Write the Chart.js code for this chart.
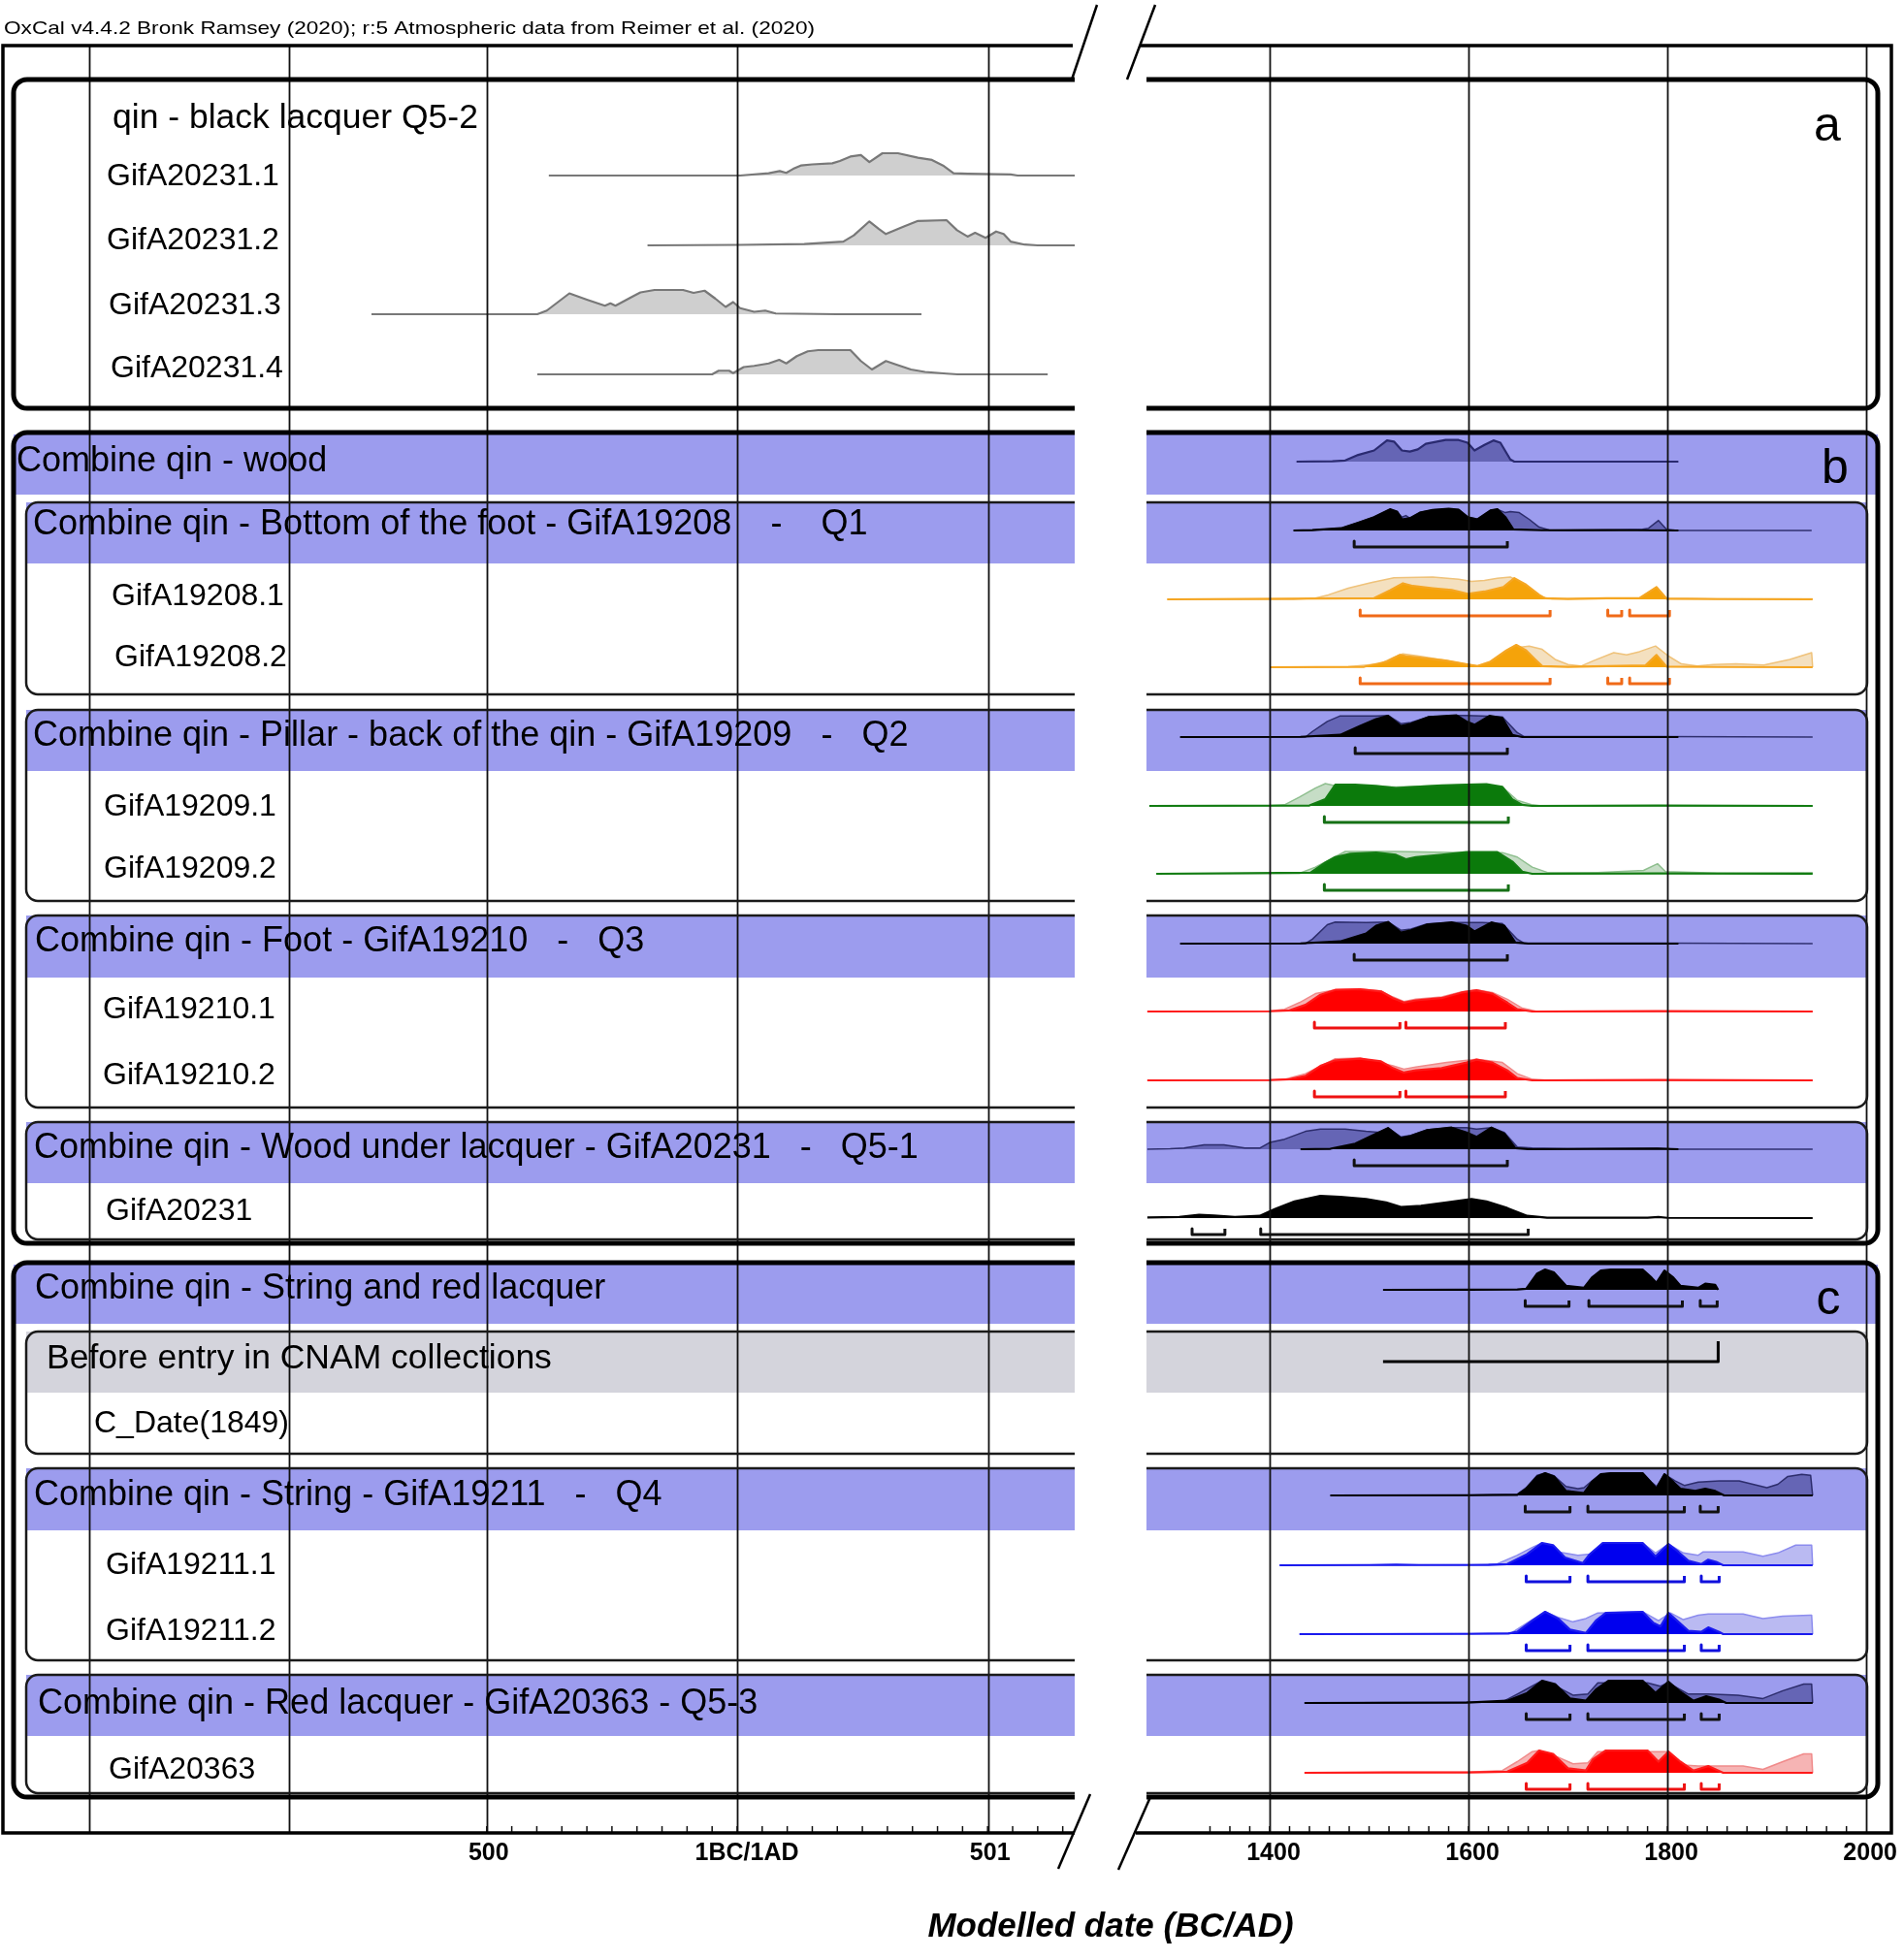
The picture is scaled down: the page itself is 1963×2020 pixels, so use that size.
<!DOCTYPE html>
<html><head><meta charset="utf-8">
<script src="https://cdn.jsdelivr.net/npm/chart.js"></script>
<style>html,body{margin:0;padding:0;background:#fff;}canvas{display:block;}</style>
</head><body>
<canvas id="c" width="1963" height="2020"></canvas>
<script>
// ================= DATA (years, relative probability) =================
const titleText = 'OxCal v4.4.2 Bronk Ramsey (2020); r:5 Atmospheric data from Reimer et al. (2020)';
const axisTitle = 'Modelled date (BC/AD)';
const leftTickLabels = ['500','1BC/1AD','501'];
const leftTickYears = [-500, 0, 501];
const rightTickLabels = ['1400','1600','1800','2000'];
const rightTickYears = [1400, 1600, 1800, 2000];
const leftGridYears = [-1293, -895, -500, 0, 501];
const rightGridYears = [1400, 1600, 1800, 2000];

const labelTexts = [
 'qin - black lacquer Q5-2','GifA20231.1','GifA20231.2','GifA20231.3','GifA20231.4',
 'Combine qin - wood',
 'Combine qin - Bottom of the foot - GifA19208    -    Q1','GifA19208.1','GifA19208.2',
 'Combine qin - Pillar - back of the qin - GifA19209   -   Q2','GifA19209.1','GifA19209.2',
 'Combine qin - Foot - GifA19210   -   Q3','GifA19210.1','GifA19210.2',
 'Combine qin - Wood under lacquer - GifA20231   -   Q5-1','GifA20231',
 'Combine qin - String and red lacquer',
 'Before entry in CNAM collections','C_Date(1849)',
 'Combine qin - String - GifA19211   -   Q4','GifA19211.1','GifA19211.2',
 'Combine qin - Red lacquer - GifA20363 - Q5-3','GifA20363'
];
const panelLetters = ['a','b','c'];

// left panel (black lacquer, calibrated)
const g20231_1 = [[-376,0],[6,0],[63,0.1],[85,0.2],[98,0.12],[112,0.3],[127,0.45],[150,0.5],[190,0.55],[205,0.65],[226,0.85],[247,0.92],[264,0.6],[290,1.0],[321,1.0],[361,0.8],[389,0.7],[411,0.45],[432,0.1],[461,0.08],[546,0.05],[560,0],[674,0]];
const g20231_2 = [[-179,0],[6,0.02],[134,0.05],[212,0.15],[233,0.4],[264,0.95],[283,0.65],[297,0.45],[333,0.75],[361,0.97],[418,1.0],[439,0.6],[460,0.35],[475,0.5],[496,0.3],[517,0.55],[532,0.45],[546,0.15],[574,0.03],[600,0],[674,0]];
const g20231_3 = [[-730,0],[-399,0],[-380,0.15],[-335,0.86],[-300,0.6],[-264,0.35],[-253,0.45],[-243,0.35],[-207,0.75],[-193,0.9],[-165,1.0],[-108,1.0],[-87,0.88],[-65,0.97],[-44,0.65],[-23,0.3],[-8,0.5],[6,0.25],[34,0.1],[56,0.15],[77,0.03],[119,0.02],[200,0],[368,0]];
const g20231_4 = [[-399,0],[-50,0],[-37,0.15],[-16,0.15],[-8,0.05],[13,0.3],[34,0.35],[63,0.45],[84,0.6],[98,0.45],[119,0.75],[141,0.95],[162,1.0],[226,1.0],[247,0.55],[269,0.2],[297,0.55],[318,0.4],[347,0.2],[375,0.1],[418,0.03],[440,0],[620,0]];

// right panel (modelled)
const woodComb = [[1427,0],[1463,0.02],[1476,0.05],[1489,0.3],[1505,0.5],[1518,0.95],[1525,0.9],[1533,0.5],[1541,0.45],[1549,0.55],[1557,0.8],[1577,0.97],[1590,0.97],[1599,0.85],[1606,0.5],[1616,0.75],[1625,0.95],[1632,0.85],[1642,0.1],[1646,0],[1811,0]];

const q1Post = [[1424,0],[1443,0.02],[1472,0.1],[1489,0.35],[1505,0.6],[1521,0.95],[1528,0.85],[1533,0.5],[1541,0.55],[1551,0.8],[1564,0.92],[1580,0.97],[1590,0.93],[1599,0.6],[1609,0.5],[1622,0.9],[1629,0.95],[1637,0.6],[1645,0.05],[1674,0.01],[1739,0.02],[1770,0.01],[1811,0]];
const q1Prior = [[1424,0],[1443,0.02],[1472,0.1],[1489,0.35],[1505,0.6],[1521,0.95],[1528,0.85],[1533,0.6],[1537,0.67],[1541,0.55],[1551,0.8],[1564,0.92],[1580,0.97],[1590,0.93],[1599,0.6],[1609,0.5],[1622,0.9],[1629,0.95],[1637,0.8],[1642,0.85],[1651,0.8],[1661,0.5],[1671,0.15],[1681,0.02],[1700,0.01],[1739,0.02],[1775,0.05],[1781,0.1],[1791,0.45],[1799,0.05],[1810,0],[1945,0]];
const q1Range = [[1485,1639]];

const s08_1Post = [[1297,0],[1505,0.05],[1521,0.4],[1534,0.72],[1544,0.6],[1564,0.5],[1583,0.42],[1599,0.25],[1616,0.35],[1635,0.55],[1646,0.95],[1658,0.65],[1671,0.2],[1677,0.05],[1700,0.02],[1739,0.05],[1772,0.06],[1789,0.55],[1799,0.03],[1850,0.01],[1946,0]];
const s08_1Like = [[1297,0],[1424,0],[1446,0.05],[1459,0.2],[1479,0.5],[1502,0.75],[1525,0.97],[1564,1.0],[1590,0.9],[1603,0.8],[1616,0.85],[1629,0.95],[1642,1.0],[1651,0.8],[1664,0.4],[1674,0.1],[1684,0.02],[1739,0.05],[1772,0.05],[1789,0.55],[1799,0.05],[1850,0.02],[1946,0.02]];
const s08_1Range = [[1491,1682],[1740,1754],[1762,1802]];

const s08_2Post = [[1400,0],[1495,0.02],[1518,0.25],[1531,0.55],[1537,0.5],[1557,0.4],[1577,0.3],[1596,0.15],[1609,0.05],[1622,0.25],[1638,0.75],[1648,1.0],[1658,0.75],[1667,0.35],[1674,0.05],[1700,0.02],[1739,0.05],[1778,0.08],[1789,0.55],[1799,0.03],[1850,0.01],[1946,0]];
const s08_2Like = [[1400,0],[1479,0.02],[1511,0.15],[1525,0.45],[1534,0.6],[1550,0.5],[1577,0.3],[1599,0.12],[1609,0.05],[1622,0.2],[1642,0.85],[1661,0.95],[1674,0.8],[1687,0.35],[1700,0.12],[1713,0.05],[1726,0.3],[1746,0.65],[1759,0.55],[1772,0.7],[1788,0.95],[1801,0.5],[1814,0.15],[1830,0.05],[1846,0.12],[1869,0.15],[1897,0.1],[1923,0.35],[1945,0.65],[1946,0]];
const s08_2Range = [[1491,1682],[1740,1754],[1762,1802]];

const q2Post = [[1310,0],[1431,0.01],[1471,0.1],[1491,0.5],[1507,0.8],[1519,0.95],[1532,0.5],[1542,0.6],[1560,0.9],[1588,0.97],[1598,0.7],[1606,0.55],[1621,0.95],[1634,0.85],[1644,0.1],[1654,0],[1811,0]];
const q2Prior = [[1310,0],[1436,0],[1443,0.25],[1458,0.7],[1471,0.95],[1507,0.95],[1519,0.97],[1532,0.6],[1542,0.65],[1560,0.9],[1588,0.97],[1598,0.97],[1614,0.95],[1634,0.9],[1649,0.2],[1656,0.02],[1790,0.02],[1946,0]];
const q2Range = [[1486,1639]];

const s09_1Post = [[1279,0],[1440,0.02],[1456,0.3],[1466,0.95],[1486,0.95],[1507,0.9],[1527,0.8],[1547,0.85],[1573,0.92],[1598,0.95],[1618,0.97],[1634,0.85],[1644,0.3],[1654,0.05],[1664,0],[1790,0.02],[1946,0]];
const s09_1Like = [[1279,0],[1400,0.02],[1415,0.05],[1430,0.4],[1446,0.8],[1456,1.0],[1466,0.9],[1486,0.9],[1527,0.85],[1598,0.95],[1634,0.85],[1649,0.25],[1664,0.05],[1674,0],[1946,0]];
const s09_1Range = [[1455,1640]];

const s09_2Post = [[1286,0],[1441,0.05],[1456,0.5],[1466,0.75],[1481,0.9],[1507,0.95],[1527,0.85],[1537,0.65],[1547,0.75],[1573,0.85],[1598,0.97],[1629,0.97],[1644,0.55],[1654,0.1],[1664,0],[1790,0.02],[1946,0]];
const s09_2Like = [[1286,0],[1430,0.02],[1446,0.3],[1476,1.0],[1527,1.0],[1598,0.95],[1634,0.95],[1649,0.75],[1664,0.3],[1680,0.05],[1730,0.05],[1776,0.15],[1790,0.45],[1798,0.1],[1850,0.03],[1946,0.05]];
const s09_2Range = [[1455,1640]];

const q3Post = [[1310,0],[1431,0.01],[1471,0.1],[1497,0.45],[1507,0.8],[1519,0.97],[1532,0.5],[1542,0.6],[1558,0.85],[1583,0.95],[1598,0.8],[1606,0.55],[1623,0.95],[1636,0.8],[1647,0.05],[1660,0],[1811,0]];
const q3Prior = [[1310,0],[1436,0],[1443,0.2],[1458,0.85],[1466,0.97],[1497,0.95],[1519,0.97],[1532,0.6],[1542,0.65],[1558,0.88],[1583,0.95],[1598,0.95],[1614,0.95],[1634,0.9],[1649,0.2],[1656,0.02],[1790,0.02],[1946,0]];
const q3Range = [[1485,1639]];

const s10_1Post = [[1277,0],[1400,0.01],[1420,0.05],[1436,0.3],[1451,0.75],[1466,0.97],[1491,1.0],[1512,0.9],[1524,0.6],[1535,0.4],[1547,0.5],[1573,0.6],[1593,0.85],[1608,0.95],[1624,0.8],[1639,0.4],[1649,0.1],[1664,0],[1790,0.02],[1946,0]];
const s10_1Like = [[1277,0],[1400,0.02],[1415,0.1],[1430,0.4],[1446,0.8],[1466,0.97],[1491,1.0],[1512,0.92],[1524,0.65],[1535,0.45],[1547,0.55],[1573,0.65],[1593,0.88],[1608,0.97],[1624,0.85],[1639,0.55],[1654,0.15],[1669,0],[1946,0]];
const s10_1Range = [[1445,1531],[1537,1637]];

const s10_2Post = [[1277,0],[1400,0.01],[1420,0.05],[1436,0.2],[1451,0.65],[1466,0.9],[1491,0.97],[1512,0.85],[1524,0.55],[1535,0.35],[1547,0.45],[1573,0.55],[1598,0.8],[1608,0.93],[1624,0.8],[1639,0.45],[1649,0.1],[1664,0],[1790,0.02],[1946,0]];
const s10_2Like = [[1277,0],[1400,0.02],[1415,0.05],[1436,0.3],[1466,0.97],[1491,1.0],[1524,0.65],[1535,0.5],[1547,0.6],[1578,0.8],[1608,0.95],[1634,0.8],[1649,0.3],[1664,0.05],[1680,0],[1946,0]];
const s10_2Range = [[1445,1531],[1537,1637]];

const q51Post = [[1431,0],[1461,0.02],[1486,0.25],[1507,0.7],[1519,0.95],[1532,0.5],[1542,0.6],[1558,0.85],[1583,0.97],[1598,0.75],[1608,0.55],[1623,0.97],[1636,0.7],[1647,0.05],[1660,0],[1790,0.03],[1811,0]];
const q51Prior = [[1277,0],[1300,0.02],[1314,0.05],[1334,0.2],[1354,0.2],[1375,0.05],[1390,0.05],[1400,0.3],[1415,0.45],[1436,0.8],[1451,0.9],[1476,0.9],[1497,0.8],[1512,0.75],[1519,0.95],[1532,0.55],[1542,0.62],[1558,0.87],[1583,0.97],[1598,0.97],[1608,0.9],[1623,0.97],[1636,0.75],[1649,0.1],[1664,0.05],[1700,0.02],[1790,0.03],[1811,0],[1946,0]];
const q51Range = [[1485,1639]];

const s20231 = [[1277,0.03],[1309,0.05],[1329,0.15],[1344,0.12],[1365,0.05],[1390,0.1],[1405,0.4],[1425,0.75],[1451,1.0],[1471,0.95],[1497,0.85],[1517,0.7],[1532,0.5],[1552,0.55],[1578,0.7],[1603,0.85],[1618,0.75],[1639,0.45],[1659,0.1],[1679,0.02],[1780,0.02],[1791,0.05],[1800,0.01],[1946,0]];
const s20231Range = [[1322,1355],[1391,1660]];

const strPost = [[1514,0],[1600,0.01],[1649,0.02],[1658,0.05],[1669,0.8],[1677,1.0],[1686,0.85],[1698,0.2],[1716,0.1],[1724,0.6],[1733,0.95],[1743,1.0],[1775,1.0],[1784,0.6],[1789,0.35],[1797,0.95],[1806,0.6],[1813,0.2],[1831,0.1],[1838,0.3],[1848,0.25],[1851,0]];
const strRange = [[1657,1701],[1721,1815],[1833,1850]];
const beforeEntry = [1514, 1851];

const q4Post = [[1461,0],[1600,0.01],[1649,0.03],[1658,0.3],[1669,0.85],[1677,1.0],[1686,0.85],[1698,0.2],[1716,0.1],[1724,0.6],[1733,0.95],[1743,1.0],[1775,1.0],[1784,0.55],[1789,0.3],[1797,0.95],[1806,0.6],[1813,0.3],[1828,0.2],[1838,0.3],[1848,0.2],[1857,0],[1946,0]];
const q4Prior = [[1461,0],[1600,0.01],[1649,0.05],[1658,0.35],[1669,0.9],[1677,1.0],[1686,0.88],[1698,0.4],[1710,0.3],[1716,0.35],[1724,0.65],[1733,0.95],[1743,1.0],[1775,1.0],[1784,0.6],[1789,0.4],[1797,0.95],[1808,0.65],[1817,0.45],[1831,0.6],[1852,0.65],[1872,0.65],[1886,0.5],[1900,0.35],[1911,0.5],[1921,0.85],[1935,0.95],[1944,0.9],[1946,0]];
const q4Range = [[1657,1702],[1720,1817],[1833,1851]];

const s11_1Post = [[1410,0],[1500,0.01],[1527,0.03],[1550,0.01],[1620,0.02],[1639,0.05],[1659,0.5],[1674,1.0],[1685,0.9],[1697,0.35],[1715,0.1],[1722,0.5],[1735,1.0],[1775,1.0],[1788,0.4],[1801,0.95],[1811,0.6],[1821,0.2],[1834,0.05],[1841,0.25],[1849,0.15],[1856,0],[1946,0]];
const s11_1Like = [[1410,0],[1600,0.02],[1628,0.05],[1649,0.45],[1664,0.8],[1674,1.0],[1690,0.6],[1710,0.45],[1722,0.5],[1735,1.0],[1775,1.0],[1788,0.55],[1801,0.95],[1816,0.55],[1831,0.45],[1836,0.6],[1876,0.6],[1896,0.4],[1911,0.55],[1929,0.9],[1945,0.9],[1946,0]];
const s11_1Range = [[1658,1702],[1720,1817],[1834,1852]];

const s11_2Post = [[1430,0],[1600,0.01],[1640,0.03],[1649,0.1],[1664,0.6],[1677,1.0],[1690,0.7],[1702,0.2],[1718,0.05],[1728,0.6],[1738,0.95],[1775,1.0],[1786,0.5],[1793,0.35],[1801,0.95],[1811,0.55],[1821,0.15],[1834,0.1],[1841,0.3],[1852,0.1],[1856,0],[1946,0]];
const s11_2Like = [[1430,0],[1600,0.02],[1643,0.05],[1664,0.65],[1677,1.0],[1690,0.75],[1705,0.55],[1718,0.7],[1730,0.95],[1775,1.0],[1791,0.6],[1803,0.95],[1816,0.65],[1831,0.85],[1841,0.9],[1876,0.9],[1896,0.7],[1916,0.8],[1943,0.85],[1945,0.85],[1946,0]];
const s11_2Range = [[1658,1702],[1720,1817],[1834,1852]];

const q53Post = [[1435,0],[1598,0.02],[1639,0.1],[1659,0.45],[1674,1.0],[1687,0.85],[1702,0.2],[1718,0.1],[1728,0.6],[1741,1.0],[1775,1.0],[1788,0.45],[1801,0.95],[1813,0.5],[1826,0.1],[1839,0.3],[1852,0.15],[1859,0],[1946,0]];
const q53Prior = [[1435,0],[1598,0.03],[1634,0.05],[1649,0.4],[1674,1.0],[1690,0.7],[1705,0.35],[1720,0.4],[1730,0.9],[1780,0.9],[1793,0.75],[1801,0.9],[1821,0.4],[1841,0.4],[1871,0.35],[1896,0.2],[1916,0.55],[1937,0.85],[1945,0.85],[1946,0]];
const q53Range = [[1658,1702],[1720,1817],[1834,1852]];

const s20363Post = [[1435,0],[1517,0.02],[1600,0.02],[1639,0.05],[1659,0.45],[1671,1.0],[1685,0.85],[1700,0.2],[1718,0.1],[1725,0.6],[1738,1.0],[1780,1.0],[1791,0.5],[1801,0.95],[1813,0.5],[1826,0.1],[1841,0.3],[1856,0],[1946,0]];
const s20363Like = [[1435,0],[1600,0.03],[1634,0.1],[1649,0.5],[1664,0.95],[1671,1.0],[1690,0.7],[1705,0.4],[1720,0.45],[1730,0.95],[1780,0.95],[1801,0.95],[1816,0.35],[1831,0.3],[1852,0.3],[1876,0.3],[1896,0.15],[1916,0.5],[1937,0.85],[1945,0.85],[1946,0]];
const s20363Range = [[1658,1702],[1720,1817],[1834,1852]];

// ================= LAYOUT & STYLE =================
const FONT = '"Liberation Sans", Arial, Helvetica, sans-serif';
const L_END = 1108, R_START = 1182;
const BAND = '#9c9cee', GREY = '#d4d4dc';
const PRI = 'rgba(35,35,110,0.45)', PRIB = 'rgba(30,30,90,0.85)';
const ST = {
  grey:  {post:'#cfcfcf', postB:'#787878'},
  black: {post:'#000000', postB:'#000000', like:PRI, likeB:PRIB, range:'#111111'},
  orange:{post:'#f5a30a', postB:'#f5a623', like:'#f4e0bf', likeB:'#efc27a', range:'#f06a18'},
  green: {post:'#0b7a0b', postB:'#127c12', like:'#c6ddc6', likeB:'#8fbf8f', range:'#157015'},
  red:   {post:'#ff0000', postB:'#ff1a1a', like:'#f6b4b4', likeB:'#f08a8a', range:'#ee1111'},
  blue:  {post:'#0000ee', postB:'#1a1aee', like:'#babaf2', likeB:'#8c8cee', range:'#1010dd'}
};
const H = 23;
const leftRows = [
  {d:g20231_1, base:181, h:23}, {d:g20231_2, base:253, h:26},
  {d:g20231_3, base:324, h:25}, {d:g20231_4, base:386, h:25}
];
const rightRows = [
  {post:woodComb, postStyle:{post:PRI, postB:'#2a2a70'}, base:476},
  {post:q1Post, like:q1Prior, range:q1Range, st:'black', base:547},
  {post:s08_1Post, like:s08_1Like, range:s08_1Range, st:'orange', base:618},
  {post:s08_2Post, like:s08_2Like, range:s08_2Range, st:'orange', base:688},
  {post:q2Post, like:q2Prior, range:q2Range, st:'black', base:760},
  {post:s09_1Post, like:s09_1Like, range:s09_1Range, st:'green', base:831},
  {post:s09_2Post, like:s09_2Like, range:s09_2Range, st:'green', base:901},
  {post:q3Post, like:q3Prior, range:q3Range, st:'black', base:973},
  {post:s10_1Post, like:s10_1Like, range:s10_1Range, st:'red', base:1043},
  {post:s10_2Post, like:s10_2Like, range:s10_2Range, st:'red', base:1114},
  {post:q51Post, like:q51Prior, range:q51Range, st:'black', base:1185},
  {post:s20231, range:s20231Range, st:'black', base:1256},
  {post:strPost, range:strRange, st:'black', base:1330, h:21},
  {post:q4Post, like:q4Prior, range:q4Range, st:'black', base:1542},
  {post:s11_1Post, like:s11_1Like, range:s11_1Range, st:'blue', base:1614},
  {post:s11_2Post, like:s11_2Like, range:s11_2Range, st:'blue', base:1685},
  {post:q53Post, like:q53Prior, range:q53Range, st:'black', base:1756},
  {post:s20363Post, like:s20363Like, range:s20363Range, st:'red', base:1828}
];
const beforeY = 1404, beforeTickTop = 1383;
const labelPos = [
 [116,122,35.5],[110,182,32],[110,248,32],[112,315,32],[114,380,32],
 [17,476,36],
 [34,541,36],[115,615,32],[118,678,32],
 [34,759,36],[107,832,32],[107,896,32],
 [36,971,36],[106,1041,32],[106,1109,32],
 [35,1184,36],[109,1249,32],
 [36,1329,36],
 [48,1401,35.5],[97,1468,32],
 [35,1542,36],[109,1614,32],[109,1682,32],
 [39,1757,36],[112,1825,32]
];
const letterPos = [[1884,131],[1892,484],[1885,1341]];
const outerBoxes = [[82,421],[446,1282],[1302,1853]];
const subBoxes = [[518,716],[732,929],[944,1142],[1157,1278],[1373,1499],[1514,1712],[1727,1849]];
const bands = [
  [448,510,BAND,14,1936],[518,581,BAND,27,1925],[732,795,BAND,27,1925],[944,1008,BAND,27,1925],
  [1157,1220,BAND,27,1925],[1304,1365,BAND,14,1936],[1373,1436,GREY,27,1925],[1514,1578,BAND,27,1925],[1727,1790,BAND,27,1925]
];

// ================= DATASETS =================
function pts(arr, base, h){ return arr.map(p => ({x:p[0], y: base - p[1]*h})); }
function rangePts(ranges, y){
  const out = [];
  ranges.forEach(r => { out.push({x:r[0],y:y-6},{x:r[0],y:y},{x:r[1],y:y},{x:r[1],y:y-6},{x:r[1],y:null}); });
  return out;
}
const datasets = [];
leftRows.forEach(r => datasets.push({data:pts(r.d, r.base, r.h), xAxisID:'xL', yAxisID:'y',
  fill:{value:r.base}, backgroundColor:ST.grey.post, borderColor:ST.grey.postB, borderWidth:2.2, order:2}));
rightRows.forEach(r => {
  const st = r.postStyle || ST[r.st];
  const h = r.h || H;
  if (r.like) datasets.push({data:pts(r.like, r.base, h), xAxisID:'xR', yAxisID:'y',
    fill:{value:r.base}, backgroundColor:st.like, borderColor:st.likeB, borderWidth:1.5, order:3});
  datasets.push({data:pts(r.post, r.base, h), xAxisID:'xR', yAxisID:'y',
    fill:{value:r.base}, backgroundColor:st.post, borderColor:st.postB, borderWidth:2.2, order:2});
  if (r.range) datasets.push({data:rangePts(r.range, r.base + 17), xAxisID:'xR', yAxisID:'y',
    fill:false, borderColor:st.range, borderWidth:3, spanGaps:false, order:1});
});
datasets.push({data:[{x:beforeEntry[0],y:beforeY},{x:beforeEntry[1],y:beforeY},{x:beforeEntry[1],y:beforeTickTop}],
  xAxisID:'xR', yAxisID:'y', fill:false, borderColor:'#000', borderWidth:3, order:1});
datasets.forEach(d => { d.pointRadius = 0; d.tension = 0; d.borderJoinStyle = 'round'; });

// ================= DECORATION PLUGIN =================
function leftBox(c, x0, y0, y1, r){
  c.beginPath(); c.moveTo(L_END, y0); c.lineTo(x0+r, y0); c.arcTo(x0, y0, x0, y0+r, r);
  c.lineTo(x0, y1-r); c.arcTo(x0, y1, x0+r, y1, r); c.lineTo(L_END, y1); c.stroke();
}
function rightBox(c, x1, y0, y1, r){
  c.beginPath(); c.moveTo(R_START, y0); c.lineTo(x1-r, y0); c.arcTo(x1, y0, x1, y0+r, r);
  c.lineTo(x1, y1-r); c.arcTo(x1, y1, x1-r, y1, r); c.lineTo(R_START, y1); c.stroke();
}
const decor = {
  id:'decor',
  beforeDatasetsDraw(chart){
    const c = chart.ctx; c.save();
    bands.forEach(b => { c.fillStyle = b[2];
      c.fillRect(b[3], b[0], L_END - b[3], b[1]-b[0]);
      c.fillRect(R_START, b[0], b[4] - R_START, b[1]-b[0]); });
    c.restore();
  },
  afterDatasetsDraw(chart){
    const c = chart.ctx, xl = chart.scales.xL, xr = chart.scales.xR;
    c.save();
    // gridlines
    c.strokeStyle = '#111'; c.lineWidth = 1.8;
    leftGridYears.forEach(v => { const x = Math.round(xl.getPixelForValue(v))+0.5; c.beginPath(); c.moveTo(x,47); c.lineTo(x,1890); c.stroke(); });
    rightGridYears.forEach(v => { const x = Math.round(xr.getPixelForValue(v))+0.5; c.beginPath(); c.moveTo(x,47); c.lineTo(x,1890); c.stroke(); });
    // ticks
    c.lineWidth = 1.5;
    for (let v=-500; v<=650; v+=50){ const x = xl.getPixelForValue(v); c.beginPath(); c.moveTo(x,1890); c.lineTo(x,1883); c.stroke(); }
    for (let v=1340; v<=1990; v+=20){ const x = xr.getPixelForValue(v); c.beginPath(); c.moveTo(x,1890); c.lineTo(x,1883); c.stroke(); }
    // sub boxes
    c.strokeStyle = '#1a1a1a'; c.lineWidth = 2.5;
    subBoxes.forEach(b => { leftBox(c, 27, b[0], b[1], 12); rightBox(c, 1925, b[0], b[1], 12); });
    // outer boxes
    c.strokeStyle = '#000'; c.lineWidth = 5;
    outerBoxes.forEach(b => { leftBox(c, 14, b[0], b[1], 14); rightBox(c, 1936, b[0], b[1], 14); });
    // frame
    c.lineWidth = 3.5;
    c.beginPath(); c.moveTo(1106,47); c.lineTo(3,47); c.lineTo(3,1890); c.lineTo(1108,1890); c.stroke();
    c.beginPath(); c.moveTo(1176,47); c.lineTo(1950,47); c.lineTo(1950,1890); c.lineTo(1171,1890); c.stroke();
    // break marks
    c.lineWidth = 2.5;
    [[1131,5,1105,82],[1191,5,1162,82],[1124,1850,1091,1927],[1186,1853,1153,1928]].forEach(l => {
      c.beginPath(); c.moveTo(l[0],l[1]); c.lineTo(l[2],l[3]); c.stroke(); });
    // labels
    c.fillStyle = '#000'; c.textBaseline = 'middle'; c.textAlign = 'left';
    labelTexts.forEach((t,i) => { const p = labelPos[i]; c.font = p[2]+'px '+FONT; c.fillText(t, p[0], p[1]); });
    c.textAlign = 'center'; c.font = '50px '+FONT;
    panelLetters.forEach((t,i) => c.fillText(t, letterPos[i][0], letterPos[i][1]));
    // title
    c.textAlign = 'left'; c.font = '19px '+FONT;
    const tw = c.measureText(titleText).width;
    c.save(); c.translate(4,30); c.scale(836/tw,1); c.fillText(titleText,0,0); c.restore();
    // tick labels
    c.textAlign = 'center'; c.font = 'bold 25px '+FONT;
    leftTickLabels.forEach((t,i) => c.fillText(t, xl.getPixelForValue(leftTickYears[i]) + (t==='1BC/1AD'?10:2), 1911));
    rightTickLabels.forEach((t,i) => c.fillText(t, xr.getPixelForValue(rightTickYears[i]) + 4, 1911));
    c.font = 'italic bold 35px '+FONT;
    c.fillText(axisTitle, 1145, 1987);
    c.restore();
  }
};

// ================= CHART =================
const PXL = 0.5164, PXR = 1.0253;
new Chart(document.getElementById('c'), {
  type:'line',
  data:{datasets},
  options:{
    responsive:false, animation:false, devicePixelRatio:1,
    layout:{padding:0},
    plugins:{legend:{display:false}, tooltip:{enabled:false}},
    scales:{
      xL:{type:'linear', display:false, min:-760/PXL, max:(1963-760)/PXL},
      xR:{type:'linear', display:false, min:1400-1309/PXR, max:1400+(1963-1309)/PXR},
      y:{type:'linear', display:false, min:0, max:2020, reverse:true}
    }
  },
  plugins:[decor]
});
</script>
</body></html>
